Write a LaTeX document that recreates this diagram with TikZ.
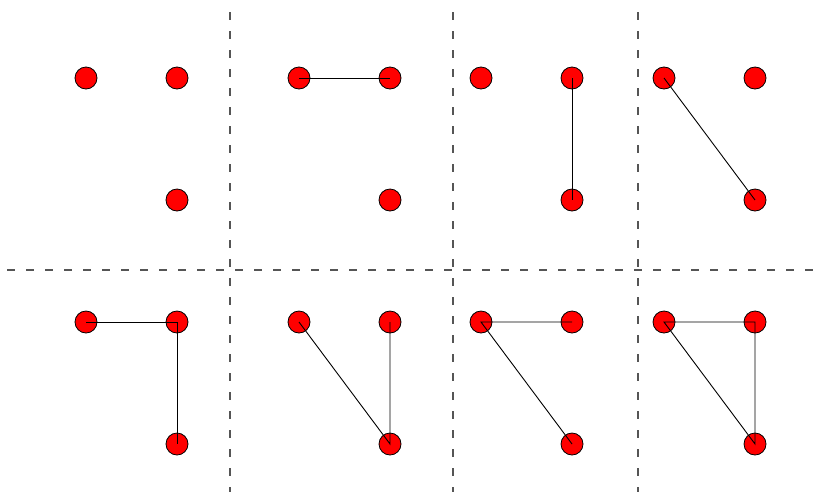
\documentclass[tikz,border=0pt]{standalone}
\definecolor{gris}{RGB}{85,85,85}
\begin{document}
\begin{tikzpicture}[x=1pt,y=-1pt,
    punto/.style={circle,draw=black,fill=red,minimum size=22pt,inner sep=0pt,line width=0.8pt},
    arista/.style={black,line width=0.9pt},
    division/.style={draw=gris,line width=1.2pt,dash pattern=on 8pt off 11pt}]
    \useasboundingbox (0,0) rectangle (818,496);

    % Divisiones
    \draw[division] (230,12) -- (230,492);
    \draw[division] (453,12) -- (453,492);
    \draw[division] (638,12) -- (638,492);
    \draw[division] (7,270) -- (818,270);

    % Puntos
    \foreach \n/\dx/\dy in {1/0/0,2/213/0,3/395/0,4/578/0,5/0/244,6/213/244,7/395/244,8/578/244}{
        \node[punto] (a\n) at (86+\dx,78+\dy) {};
        \node[punto] (b\n) at (177+\dx,78+\dy) {};
        \node[punto] (c\n) at (177+\dx,200+\dy) {};
    }

    % Aristas
    \draw[arista] (a2.center) -- (b2.center);
    \draw[arista] (b3.center) -- (c3.center);
    \draw[arista] (a4.center) -- (c4.center);
    \draw[arista] (a5.center) -- (b5.center) -- (c5.center);
    \draw[arista] (a6.center) -- (c6.center) -- (b6.center);
    \draw[arista] (b7.center) -- (a7.center) -- (c7.center);
    \draw[arista] (a8.center) -- (b8.center) -- (c8.center) -- cycle;
\end{tikzpicture}
\end{document}
